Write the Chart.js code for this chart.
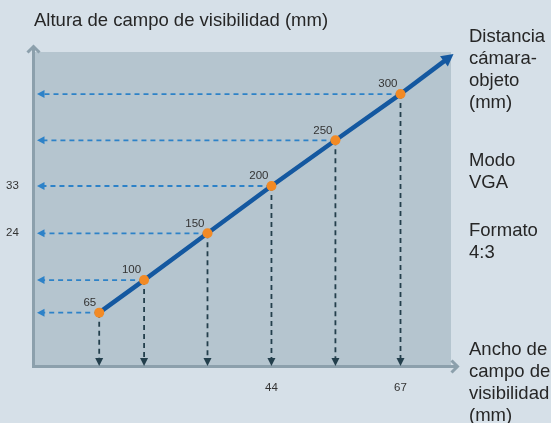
<!DOCTYPE html>
<html><head><meta charset="utf-8">
<script src="https://cdn.jsdelivr.net/npm/chart.js@4"></script>
<style>
html,body{margin:0;padding:0;background:#d6e0e8;}
#wrap{position:relative;width:551px;height:423px;overflow:hidden;background:#d6e0e8;}
canvas{position:absolute;left:0;top:0;}
.t{position:absolute;font-family:"Liberation Sans",Arial,sans-serif;font-size:18.5px;line-height:22px;color:#262626;white-space:nowrap;}
</style></head><body>
<div id="wrap">
<canvas id="c" width="551" height="423"></canvas>
<div class="t" style="left:34px;top:8.6px">Altura de campo de visibilidad (mm)</div>
<div class="t" style="left:469px;top:25.3px">Distancia<br>cámara-<br>objeto<br>(mm)</div>
<div class="t" style="left:469px;top:148.6px">Modo<br>VGA</div>
<div class="t" style="left:469px;top:219px">Formato<br>4:3</div>
<div class="t" style="left:469px;top:337.6px">Ancho de<br>campo de<br>visibilidad<br>(mm)</div>
</div>
<script>
const distances = [65, 100, 150, 200, 250, 300];
const widths = [13.3, 21.3, 32.6, 44, 55.4, 67];
const heights = [8.9, 15.1, 24, 33, 41.7, 50.5];
const arrowTip = {x: 76.45, y: 58.1};
const xTickLabels = [44, 67];
const yTickLabels = [24, 33];
const xRange = [1.5, 76];
const yRange = [-1.25, 58.5];

const pts = widths.map((w, i) => ({x: w, y: heights[i]}));

function tri(ctx, x1, y1, x2, y2, x3, y3) {
  ctx.beginPath(); ctx.moveTo(x1, y1); ctx.lineTo(x2, y2); ctx.lineTo(x3, y3); ctx.closePath(); ctx.fill();
}

const deco = {
  id: 'deco',
  beforeDatasetsDraw(chart) {
    const {ctx, chartArea: a, scales: {x, y}} = chart;
    ctx.save();
    ctx.fillStyle = '#b5c5cf';
    ctx.fillRect(a.left, a.top, a.right - a.left, a.bottom - a.top);
    // axes
    ctx.strokeStyle = '#8ca0ac'; ctx.lineWidth = 3;
    ctx.beginPath();
    ctx.moveTo(a.left + 0.5, a.bottom + 2); ctx.lineTo(a.left + 0.5, a.top - 5.5);
    ctx.moveTo(a.left - 1, a.bottom + 0.5); ctx.lineTo(a.right + 6, a.bottom + 0.5);
    ctx.stroke();
    ctx.lineWidth = 3; ctx.lineJoin = 'miter';
    ctx.beginPath();
    ctx.moveTo(a.left - 5.5, a.top + 0.5); ctx.lineTo(a.left + 0.5, a.top - 5.5); ctx.lineTo(a.left + 6.5, a.top + 0.5);
    ctx.stroke();
    ctx.beginPath();
    ctx.moveTo(a.right + 0.5, a.bottom - 5.5); ctx.lineTo(a.right + 6.5, a.bottom + 0.5); ctx.lineTo(a.right + 0.5, a.bottom + 6.5);
    ctx.stroke();
    // dashed guides
    ctx.lineWidth = 1.8;
    pts.forEach(p => {
      const px = x.getPixelForValue(p.x), py = y.getPixelForValue(p.y);
      ctx.setLineDash([5, 4]);
      ctx.strokeStyle = '#2d82c8';
      ctx.beginPath(); ctx.moveTo(px, py); ctx.lineTo(a.left + 11, py); ctx.stroke();
      ctx.strokeStyle = '#233f4c';
      ctx.beginPath(); ctx.moveTo(px, py); ctx.lineTo(px, a.bottom - 8); ctx.stroke();
      ctx.setLineDash([]);
      ctx.fillStyle = '#2d82c8';
      tri(ctx, a.left + 4, py, a.left + 11.5, py - 4, a.left + 11.5, py + 4);
      ctx.fillStyle = '#233f4c';
      tri(ctx, px, a.bottom, px - 4, a.bottom - 8, px + 4, a.bottom - 8);
    });
    // main line extension + arrow head
    const last = pts[pts.length - 1];
    const lx = x.getPixelForValue(last.x), ly = y.getPixelForValue(last.y);
    const tx = x.getPixelForValue(arrowTip.x), ty = y.getPixelForValue(arrowTip.y);
    const len = Math.hypot(tx - lx, ty - ly), ux = (tx - lx) / len, uy = (ty - ly) / len;
    const bx = tx - ux * 12, by = ty - uy * 12;
    ctx.strokeStyle = '#1458a0'; ctx.lineWidth = 4.5;
    ctx.beginPath(); ctx.moveTo(lx, ly); ctx.lineTo(bx + ux * 2, by + uy * 2); ctx.stroke();
    ctx.fillStyle = '#1458a0';
    tri(ctx, tx, ty, bx - uy * 6.5, by + ux * 6.5, bx + uy * 6.5, by - ux * 6.5);
    ctx.restore();
  },
  afterDatasetsDraw(chart) {
    const {ctx, chartArea: a, scales: {x, y}} = chart;
    ctx.save();
    ctx.font = '11.5px "Liberation Sans", Arial, sans-serif';
    ctx.fillStyle = '#333';
    ctx.textAlign = 'right'; ctx.textBaseline = 'bottom';
    pts.forEach((p, i) => {
      ctx.fillText(String(distances[i]), x.getPixelForValue(p.x) - 3, y.getPixelForValue(p.y) - 4);
    });
    ctx.textAlign = 'center'; ctx.textBaseline = 'middle';
    xTickLabels.forEach(v => ctx.fillText(String(v), x.getPixelForValue(v), a.bottom + 22));
    yTickLabels.forEach(v => ctx.fillText(String(v), 12.5, y.getPixelForValue(v)));
    ctx.restore();
  }
};

new Chart(document.getElementById('c'), {
  type: 'line',
  data: {
    datasets: [{
      data: pts,
      borderColor: '#1458a0',
      borderWidth: 4.5,
      pointRadius: 5,
      pointHoverRadius: 5,
      pointBackgroundColor: '#f28a25',
      pointBorderWidth: 0,
      tension: 0
    }]
  },
  options: {
    responsive: false,
    animation: false,
    devicePixelRatio: 1,
    layout: {padding: {left: 33, top: 52, right: 100, bottom: 57}},
    scales: {
      x: {type: 'linear', min: xRange[0], max: xRange[1], display: false},
      y: {type: 'linear', min: yRange[0], max: yRange[1], display: false}
    },
    plugins: {legend: {display: false}, tooltip: {enabled: false}}
  },
  plugins: [deco]
});
</script>
</body></html>
